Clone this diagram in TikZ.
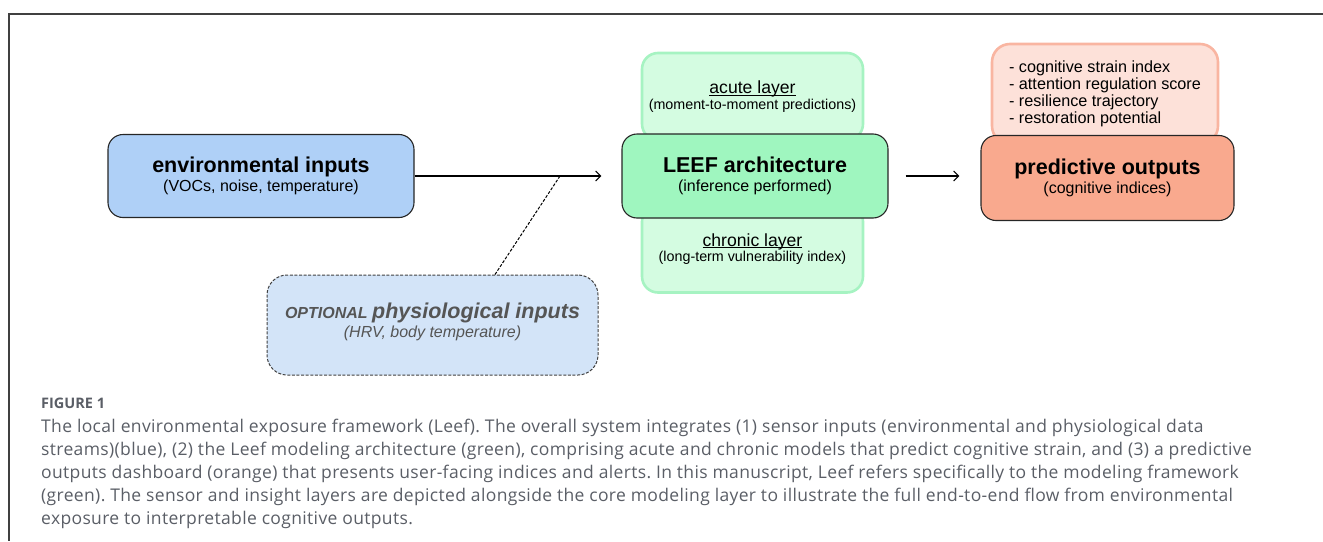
\documentclass[tikz,border=0pt]{standalone}
\usepackage{fontspec}
\setmainfont{Liberation Sans}
\newfontfamily\capfont[LetterSpace=2]{Open Sans}
\newfontfamily\capheadfont{Open Sans}
\usetikzlibrary{positioning,arrows.meta}

\definecolor{envblue}{HTML}{AFD0F7}
\definecolor{optblue}{HTML}{D3E4F8}
\definecolor{leefgreen}{HTML}{9FF6BF}
\definecolor{layerfill}{HTML}{D4FCE1}
\definecolor{layerline}{HTML}{A6F3C2}
\definecolor{outred}{HTML}{F9A98E}
\definecolor{listfill}{HTML}{FDE1D9}
\definecolor{listline}{HTML}{F9B5A1}
\definecolor{optgray}{HTML}{555555}
\definecolor{capgray}{HTML}{5A5E66}

\newcommand{\blocktitle}[1]{{\fontsize{21.5}{19}\selectfont\bfseries #1}}
% underline that runs just under the baseline
\newcommand{\layertitle}[1]{{\fontsize{17.6}{15}\selectfont
   \setbox0\hbox{#1}\rlap{\rule[-2.2pt]{\wd0}{0.9pt}}\box0}}

\begin{document}
\begin{tikzpicture}[x=1pt,y=-1pt,
    >={Straight Barb[length=5pt,width=10pt]},
    block/.style={draw=black!85, line width=1.1pt, rounded corners=15pt,
      align=center, inner sep=0pt, font=\fontsize{16}{19}\selectfont},
    layer/.style={fill=layerfill, draw=layerline, line width=2.6pt,
      rounded corners=16pt, minimum width=221pt, minimum height=87pt,
      align=center, inner sep=0pt, font=\fontsize{14.3}{15.5}\selectfont},
    link/.style={->, line width=1.1pt},
    frame/.style={draw=black!75, line width=1.2pt}]
   \useasboundingbox (0,0) rectangle (1323,541);
   \draw[frame] (1323,14) -| (9,541);

   % inputs
   \node[block, fill=envblue, minimum width=306pt, minimum height=83pt] (env) at (261,176)
      {\blocktitle{environmental inputs}\\(VOCs, noise, temperature)};
   \node[block, fill=optblue, draw=black!75, line width=1pt, dash pattern=on 3pt off 1.6pt,
      rounded corners=20pt, minimum width=331pt, minimum height=100pt, text=optgray,
      text depth=10pt, font=\fontsize{16}{19}\selectfont\itshape] (opt) at (432.5,325)
      {{\bfseries OPTIONAL} \blocktitle{physiological inputs}\\(HRV, body temperature)};

   % model layers, the core box sits on top of them
   \node[layer] (acute) at (752.5,96.5)
      {\layertitle{acute layer}\\(moment-to-moment predictions)};
   \node[layer, on grid, below=152.5pt of acute] (chronic)
      {\layertitle{chronic layer}\\(long-term vulnerability index)};
   \node[block, fill=leefgreen, minimum width=266pt, minimum height=84pt] (leef) at (755,176)
      {\blocktitle{LEEF architecture}\\(inference performed)};

   % outputs
   \node[fill=listfill, draw=listline, line width=2.6pt, rounded corners=18pt,
      minimum width=226pt, minimum height=100pt, align=left,
      inner sep=0pt, font=\fontsize{16.2}{17}\selectfont] (list) at (1105,94)
      {- cognitive strain index\\- attention regulation score\\- resilience trajectory\\- restoration potential};
   \node[block, fill=outred, minimum width=253pt, minimum height=85pt] (out) at (1107.5,178)
      {\blocktitle{predictive outputs}\\(cognitive indices)};

   \coordinate (tap) at (560,176);
   \draw[link, shorten >=20pt] (env) -- (leef);
   \draw[line width=1pt, dash pattern=on 3pt off 1.6pt] ([xshift=62.5pt]opt.north) -- (tap);
   \draw[link, shorten <=17pt, shorten >=21pt] (leef.east) -- (leef.east -| out.west);

   % caption
   \node[anchor=base west, inner sep=0pt, text=capgray, font=\capheadfont\fontsize{14.5}{16}\selectfont\bfseries] (fignum)
      at (41,408) {FIGURE 1};
   \node[anchor=north west, align=left, inner sep=0pt, text=capgray,
      font=\capfont\fontsize{17.5}{23}\selectfont\frenchspacing] (caption) at (41,419)
      {The local environmental exposure framework (Leef). The overall system integrates (1) sensor inputs (environmental and physiological data\\
       streams)(blue), (2) the Leef modeling architecture (green), comprising acute and chronic models that predict cognitive strain, and (3) a predictive\\
       outputs dashboard (orange) that presents user-facing indices and alerts. In this manuscript, Leef refers specifically to the modeling framework\\
       (green). The sensor and insight layers are depicted alongside the core modeling layer to illustrate the full end-to-end flow from environmental\\
       exposure to interpretable cognitive outputs.};
\end{tikzpicture}
\end{document}
